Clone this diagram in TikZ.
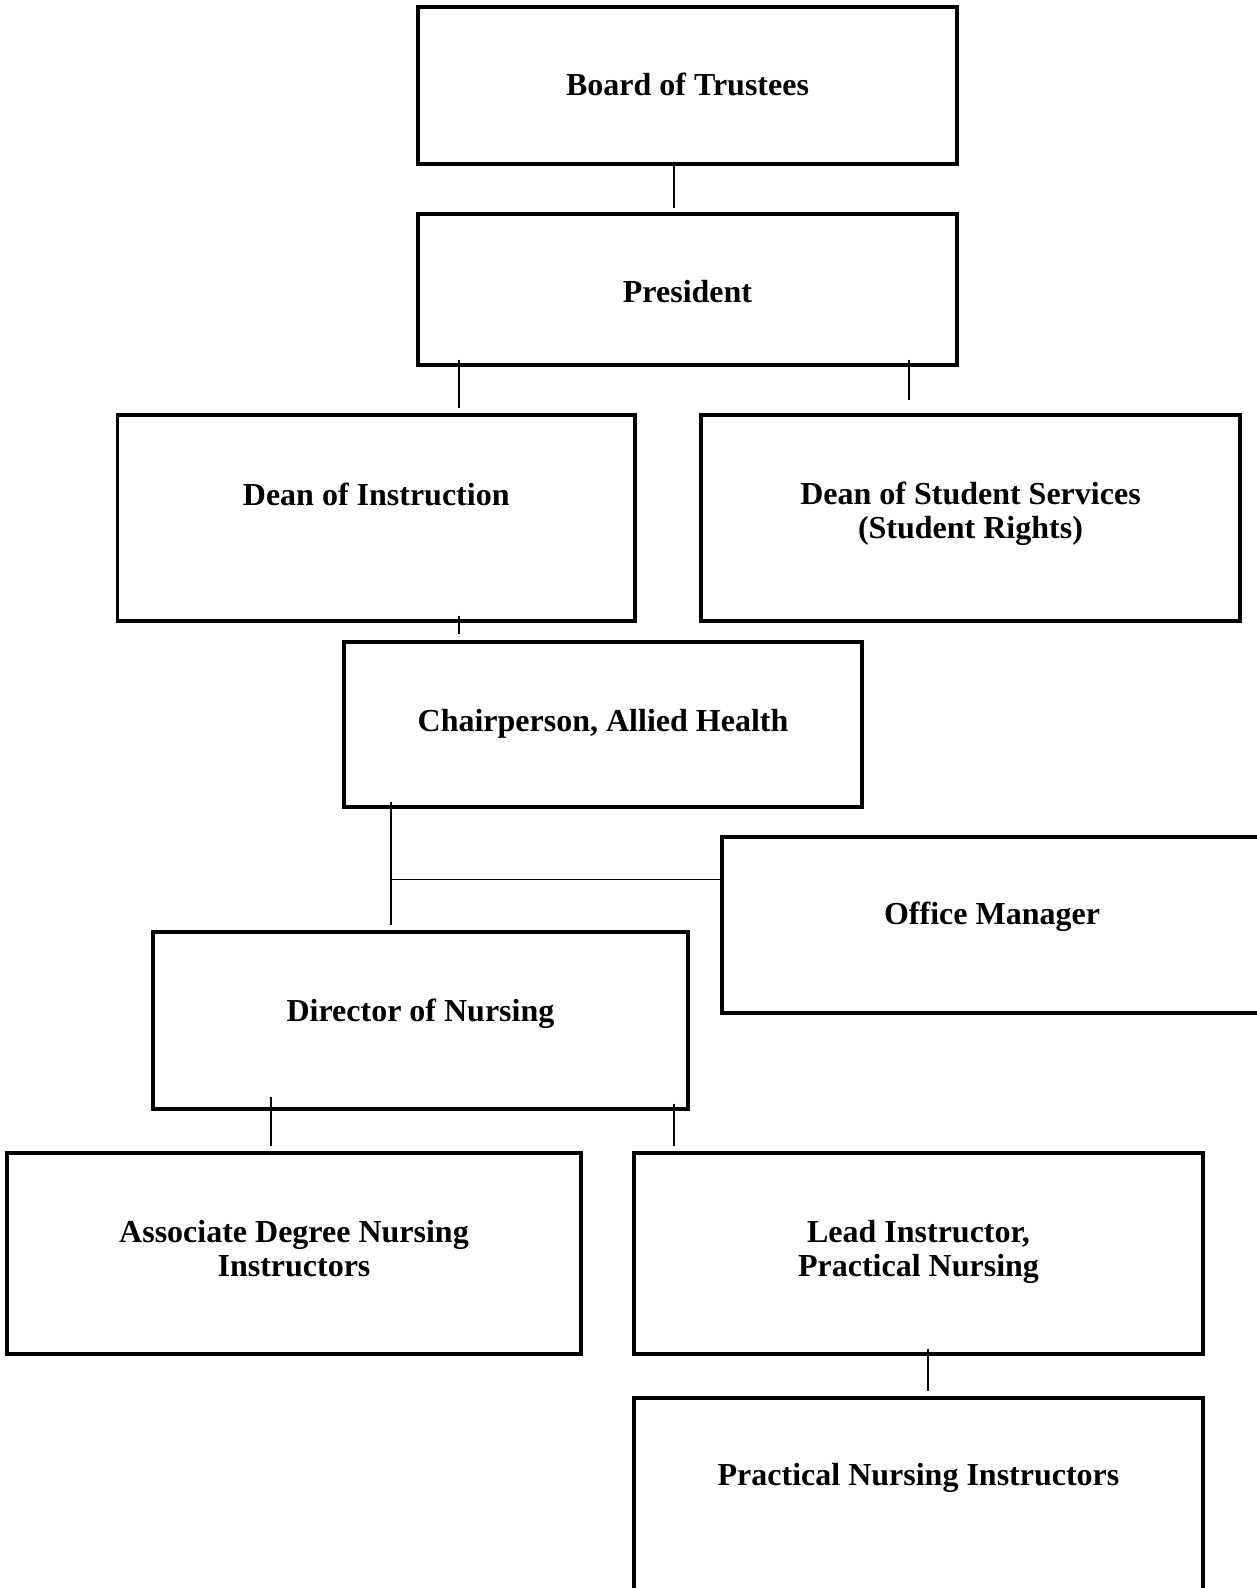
\documentclass[tikz,border=0pt]{standalone}
\usepackage{fontspec}
\setmainfont{Liberation Serif}
\begin{document}
\begin{tikzpicture}[x=1pt,y=-1pt,
  box/.style={draw, line width=3.4pt, rectangle, inner sep=0pt},
  lbl/.style={font=\fontsize{32}{34}\selectfont\bfseries, align=center},
  conn/.style={line width=1.4pt}]
\useasboundingbox (0,0) rectangle (1256,1588);

% Boxes
\node[box, minimum width=539pt, minimum height=157pt, label={[lbl, name=boardtxt, yshift=1pt]center:Board of Trustees}] (board) at (687.5,85.5) {};
\node[box, minimum width=539pt, minimum height=151pt, label={[lbl, name=prestxt, yshift=-2pt]center:President}] (pres) at (687.5,289.5) {};
\node[box, minimum width=517.5pt, minimum height=206pt, label={[lbl, name=doitxt, yshift=24pt]center:Dean of Instruction}] (doi) at (376.25,518) {};
\node[box, minimum width=539pt, minimum height=206pt, label={[lbl, name=dsstxt, yshift=4pt]center:Dean of Student Services\\(Student Rights)}] (dss) at (970.5,518) {};
\node[box, minimum width=518pt, minimum height=165pt, label={[lbl, name=chairtxt, yshift=1pt]center:Chairperson, Allied Health}] (chair) at (603,724.5) {};
\node[box, minimum width=540pt, minimum height=176pt, label={[lbl, name=officetxt, yshift=8pt]center:Office Manager}] (office) at (992,925) {};
\node[box, minimum width=535pt, minimum height=177pt, label={[lbl, name=dirtxt, yshift=7pt]center:Director of Nursing}] (dir) at (420.5,1020.5) {};
\node[box, minimum width=574pt, minimum height=201pt, label={[lbl, name=adntxt, yshift=5pt]center:Associate Degree Nursing\\Instructors}] (adn) at (294,1253.5) {};
\node[box, minimum width=569pt, minimum height=201pt, label={[lbl, name=leadtxt, yshift=2pt]center:Lead Instructor,\\Practical Nursing}] (lead) at (918.5,1253.5) {};
\node[box, minimum width=569pt, minimum height=212pt, label={[lbl, name=pnitxt, yshift=26pt]center:Practical Nursing Instructors}] (pni) at (918.5,1504) {};

% Connectors
\draw[conn] ([shift={(-13.5,-4)}]board.south) -- ([shift={(-13.5,-4)}]pres.north);
\draw[conn] ([shift={(-228.5,-7)}]pres.south) -- ([shift={(82.75,-5)}]doi.north);
\draw[conn] ([shift={(221.5,-7)}]pres.south) -- ([shift={(-61.5,-13)}]dss.north);
\draw[conn] ([shift={(82.75,-7)}]doi.south) -- ([shift={(-144,-6)}]chair.north);
\draw[conn] ([shift={(-212,-7)}]chair.south) -- ([shift={(-29.5,-5)}]dir.north);
\coordinate (jn) at ([shift={(-212,71)}]chair.south);
\draw[conn] (jn) -- (jn -| office.west);
\draw[conn] ([shift={(-149.5,-14)}]dir.south) -- ([shift={(-23,-5)}]adn.north);
\draw[conn] ([shift={(253.5,-7)}]dir.south) -- ([shift={(-244.5,-5)}]lead.north);
\draw[conn] ([shift={(9.5,-7)}]lead.south) -- ([shift={(9.5,-5)}]pni.north);

\end{tikzpicture}
\end{document}
